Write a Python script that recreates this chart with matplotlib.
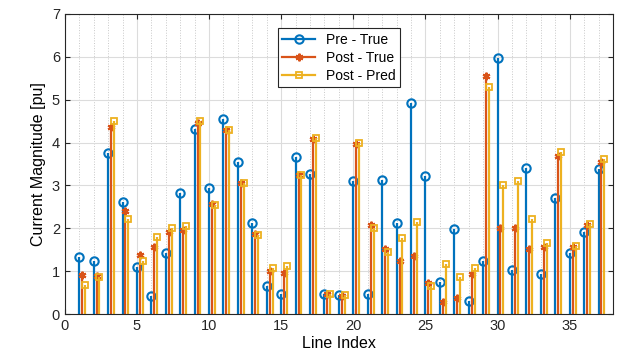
import numpy as np
import matplotlib
matplotlib.use('Agg')
import matplotlib.pyplot as plt
from matplotlib.ticker import MultipleLocator

plt.rcParams['font.family'] = ['Liberation Sans', 'DejaVu Sans']

line_idx = np.arange(1, 38)

pre_true = [1.34, 1.25, 3.75, 2.61, 1.09, 0.42, 1.42, 2.83, 4.32, 2.95,
            4.56, 3.55, 2.12, 0.65, 0.47, 3.67, 3.27, 0.46, 0.45, 3.10,
            0.47, 3.12, 2.12, 4.92, 3.23, 0.75, 1.99, 0.31, 1.25, 5.97,
            1.03, 3.41, 0.94, 2.71, 1.42, 1.91, 3.38]
post_true = [0.91, 0.89, 4.36, 2.41, 1.37, 1.57, 1.92, 1.96, 4.45, 2.58,
             4.29, 3.06, 1.86, 1.01, 0.95, 3.24, 4.08, 0.47, 0.43, 3.97,
             2.08, 1.53, 1.24, 1.36, 0.72, 0.29, 0.38, 0.93, 5.56, 2.01,
             2.02, 1.52, 1.56, 3.69, 1.57, 2.08, 3.55]
post_pred = [0.69, 0.87, 4.50, 2.23, 1.24, 1.80, 2.01, 2.05, 4.50, 2.54,
             4.29, 3.05, 1.84, 1.07, 1.12, 3.24, 4.10, 0.48, 0.45, 3.99,
             2.01, 1.44, 1.78, 2.14, 0.66, 1.17, 0.86, 1.07, 5.29, 3.00,
             3.11, 2.23, 1.65, 3.78, 1.59, 2.10, 3.62]

c_blue = '#0072BD'
c_orange = '#D95319'
c_yellow = '#EDB120'

fig = plt.figure(figsize=(6.23, 3.57), dpi=100)
ax = fig.add_axes([0.104, 0.120, 0.880, 0.841])

series = [
    (line_idx, pre_true, c_blue, 'o', 'Pre - True', dict(markerfacecolor='none', markersize=6, markeredgewidth=1.5)),
    (line_idx + 0.2, post_true, c_orange, (6, 2, 0), 'Post - True', dict(markersize=5.5, markeredgewidth=1.5)),
    (line_idx + 0.4, post_pred, c_yellow, 's', 'Post - Pred', dict(markerfacecolor='none', markersize=4.2, markeredgewidth=1.3)),
]

handles = []
for xs, ys, col, mk, lab, mkw in series:
    ml, sl, bl = ax.stem(xs, ys, basefmt=' ', label=lab)
    plt.setp(sl, color=col, linewidth=1.6)
    plt.setp(ml, color=col, marker=mk, **mkw)
    h, = ax.plot([], [], color=col, linewidth=1.6, marker=mk, **mkw)
    handles.append(h)

ax.set_xlim(0, 38)
ax.set_ylim(0, 7)
ax.xaxis.set_major_locator(MultipleLocator(5))
ax.xaxis.set_minor_locator(MultipleLocator(1))
ax.yaxis.set_major_locator(MultipleLocator(1))
ax.grid(True, which='major', color='#dcdcdc', linewidth=0.8)
ax.grid(True, which='minor', axis='x', color='#c8c8c8', linestyle=':', linewidth=0.7)
ax.set_axisbelow(True)
ax.tick_params(which='both', direction='in', top=True, right=True, labelsize=10.5, colors='#262626')
ax.tick_params(which='minor', length=0)
for sp in ax.spines.values():
    sp.set_color('#262626')

ax.set_xlabel('Line Index', fontsize=11.5, labelpad=2)
ax.set_ylabel('Current Magnitude [pu]', fontsize=11.5)

leg = ax.legend(handles, ['Pre - True', 'Post - True', 'Post - Pred'],
                loc='upper center', bbox_to_anchor=(0.5, 0.975), fontsize=10,
                fancybox=False, edgecolor='#262626', framealpha=1,
                handlelength=2.4, borderpad=0.3, labelspacing=0.3)
leg.get_frame().set_linewidth(0.8)

fig.savefig('out.png', dpi=100)
